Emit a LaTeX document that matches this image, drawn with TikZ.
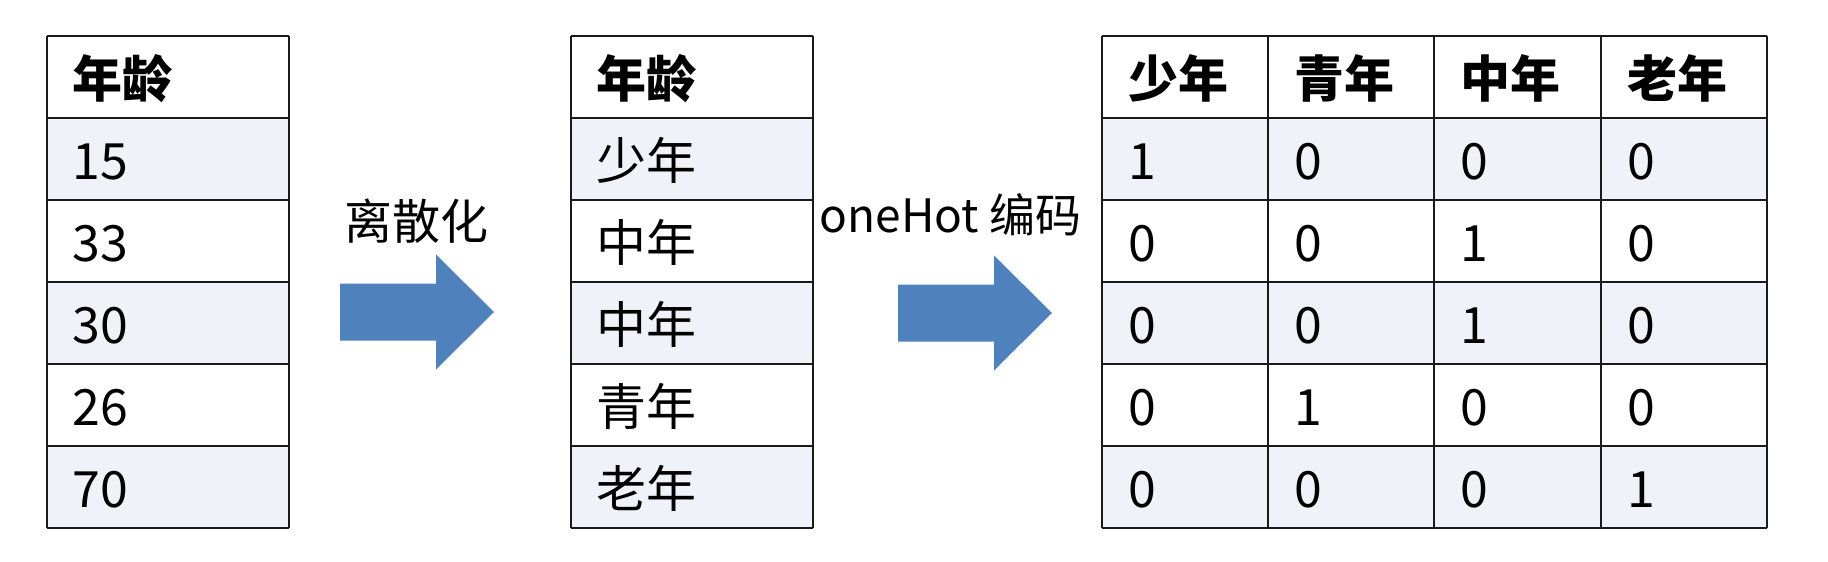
\documentclass[tikz,border=0pt]{standalone}
\usepackage{fontspec}
\setmainfont{Noto Sans CJK SC}
\definecolor{rowfill}{HTML}{EFF2F8}
\definecolor{arrowblue}{HTML}{4F81BD}
\definecolor{gridline}{HTML}{1A1A1A}
\begin{document}
\begin{tikzpicture}[x=0.5pt,y=-0.5pt,
  cell/.style={anchor=base west,inner sep=0pt,font=\fontsize{25pt}{30pt}\selectfont},
  headcell/.style={cell,font=\fontsize{25pt}{30pt}\selectfont\bfseries},
  grid/.style={draw=gridline,line width=1pt},
  bigarrow/.style={fill=arrowblue,draw=none},
  lbl/.style={anchor=base,inner sep=0pt}]
\useasboundingbox (0,0) rectangle (1828,562);
\fill[white] (0,0) rectangle (1828,562);
\def\rh{81.98}
\def\top{35.7}
% ---------- fills ----------
\foreach \L/\R in {46.7/289, 571/813, 1101.7/1767}{
  \foreach \i in {1,3,5}{
    \fill[rowfill] (\L,{\top+\i*\rh}) rectangle (\R,{\top+(\i+1)*\rh});
  }
}
% ---------- grids ----------
\foreach \L/\R in {46.7/289, 571/813, 1101.7/1767}{
  \foreach \i in {0,...,6}{
    \draw[grid] (\L,{\top+\i*\rh}) -- (\R,{\top+\i*\rh});
  }
  \draw[grid] (\L,\top) -- (\L,{\top+6*\rh});
  \draw[grid] (\R,\top) -- (\R,{\top+6*\rh});
}
\foreach \x in {1268,1434.3,1600.6}{
  \draw[grid] (\x,\top) -- (\x,{\top+6*\rh});
}
% ---------- table 1 ----------
\node[headcell] (t1h) at (72,{\top+61.5}) {年龄};
\foreach \v [count=\i] in {15,33,30,26,70}{
  \node[cell] (t1r\i) at (72,{\top+\i*\rh+61.5}) {\v};
}
% ---------- table 2 ----------
\node[headcell] (t2h) at (596,{\top+61.5}) {年龄};
\foreach \v [count=\i] in {少年,中年,中年,青年,老年}{
  \node[cell] (t2r\i) at (596,{\top+\i*\rh+61.5}) {\v};
}
% ---------- table 3 ----------
\foreach \h [count=\j] in {少年,青年,中年,老年}{
  \node[headcell] (t3h\j) at ({1101.7+(\j-1)*166.3+26},{\top+61.5}) {\h};
}
\foreach \a/\b/\c/\d [count=\i] in {1/0/0/0, 0/0/1/0, 0/0/1/0, 0/1/0/0, 0/0/0/1}{
  \node[cell] (t3r\i c1) at ({1101.7+26},{\top+\i*\rh+61.5}) {\a};
  \node[cell] (t3r\i c2) at ({1101.7+166.3+26},{\top+\i*\rh+61.5}) {\b};
  \node[cell] (t3r\i c3) at ({1101.7+2*166.3+26},{\top+\i*\rh+61.5}) {\c};
  \node[cell] (t3r\i c4) at ({1101.7+3*166.3+26},{\top+\i*\rh+61.5}) {\d};
}
% ---------- arrows ----------
\fill[bigarrow] (340,283.5) -- (436,283.5) -- (436,254.5) -- (494,312) -- (436,369.5) -- (436,340.5) -- (340,340.5) -- cycle;
\fill[bigarrow] (898,284.5) -- (994,284.5) -- (994,255.5) -- (1052,313) -- (994,370.5) -- (994,341.5) -- (898,341.5) -- cycle;
% ---------- labels ----------
\node[lbl,font=\fontsize{24pt}{28pt}\selectfont] (lab1) at (416,239) {离散化};
\node[lbl,font=\fontsize{23pt}{28pt}\selectfont] (lab2) at (950.5,232) {oneHot 编码};
\end{tikzpicture}
\end{document}
